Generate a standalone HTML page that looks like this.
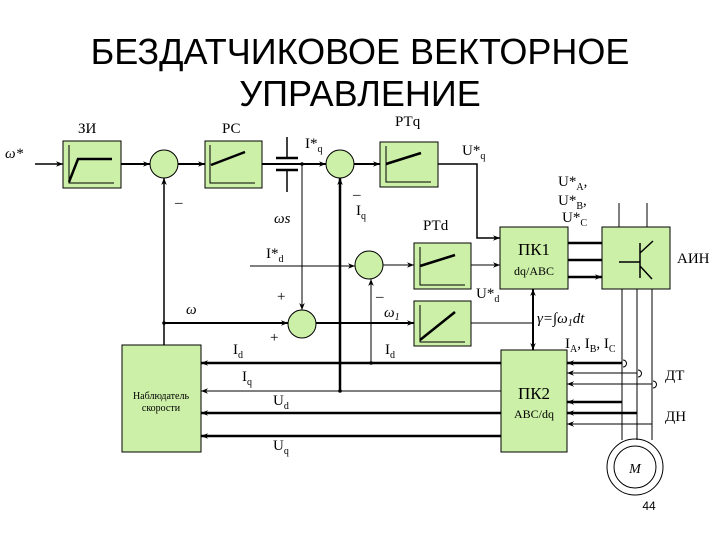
<!DOCTYPE html>
<html><head><meta charset="utf-8"><style>
body{margin:0;background:#fff;width:720px;height:540px;overflow:hidden}
svg{display:block}
text{font-family:"Liberation Serif",serif;fill:#000}
</style></head><body>
<svg width="720" height="540" viewBox="0 0 720 540" xmlns="http://www.w3.org/2000/svg">
<defs>
<marker id="a" viewBox="0 0 10 10" refX="10" refY="5" markerWidth="7" markerHeight="7" orient="auto-start-reverse" markerUnits="userSpaceOnUse"><path d="M0,1 L10,5 L0,9 L3,5 z" fill="#000"/></marker>
</defs>
<text x="360" y="64" font-size="36" text-anchor="middle" style="font-family:'Liberation Sans',sans-serif">БЕЗДАТЧИКОВОЕ ВЕКТОРНОЕ</text>
<text x="360" y="106" font-size="36" text-anchor="middle" style="font-family:'Liberation Sans',sans-serif">УПРАВЛЕНИЕ</text>

<g fill="#ccf0a8" stroke="#000" stroke-width="1">
<rect x="63" y="141" width="58" height="47"/>
<rect x="205" y="141" width="57" height="47"/>
<rect x="380" y="142" width="58" height="45"/>
<rect x="414" y="243" width="57" height="46"/>
<rect x="414" y="301" width="57" height="45"/>
<rect x="500" y="227" width="68" height="62"/>
<rect x="602" y="227" width="68" height="62"/>
<rect x="122" y="345" width="79" height="107"/>
<rect x="501" y="350" width="66" height="102"/>
<circle cx="164" cy="164" r="14"/>
<circle cx="340" cy="164" r="14"/>
<circle cx="369" cy="265" r="14"/>
<circle cx="302" cy="324" r="14"/>
</g>
<g stroke="#000" fill="none">
<path d="M69,145 V183 H114" stroke-width="1"/><path d="M69,182 L78,159 H112" stroke-width="2.5"/>
<path d="M210,145 V183 H255" /><path d="M211,165 L245,152" stroke-width="2.5"/>
<path d="M386,146 V182 H431" /><path d="M386,164 L421,153" stroke-width="2.5"/>
<path d="M420,247 V285 H465" /><path d="M420,266 L455,255" stroke-width="2.5"/>
<path d="M420,305 V342 H465" /><path d="M420,340 L455,312" stroke-width="2.5"/>
<path d="M619,262 H640 M640,243 V278 M640,253 L653,241 M640,266 L652,279" stroke-width="1.5"/>
</g>
<g stroke="#000" fill="none" stroke-width="1.5">
<path d="M35,164 H63" marker-end="url(#a)"/>
<path d="M121,164 H150" marker-end="url(#a)" stroke-width="2"/>
<path d="M178,164 H205" marker-end="url(#a)" stroke-width="2"/>
<path d="M262,164 H326" marker-end="url(#a)" stroke-width="2"/>
<path d="M276,158 H298 M276,170 H298" stroke-width="2.5"/>
<path d="M287,137 V158 M287,170 V192"/>
<path d="M354,164 H380" marker-end="url(#a)" stroke-width="2"/>
<path d="M438,164 H477 V238 H500" marker-end="url(#a)"/>
<path d="M302,164 V310" marker-end="url(#a)" stroke-width="1"/>
<path d="M164,345 V323 M164,323 V178" marker-end="url(#a)"/>
<path d="M164,323 H288" marker-end="url(#a)" stroke-width="2"/>
<path d="M316,323 H414" marker-end="url(#a)" stroke-width="2"/>
<path d="M250,266 H355" marker-end="url(#a)" stroke-width="1"/>
<path d="M383,265 H414" marker-end="url(#a)" stroke-width="1"/>
<path d="M471,265 H500" marker-end="url(#a)" stroke-width="1"/>
<path d="M340,391 V178" marker-end="url(#a)" stroke-width="2.5"/>
<path d="M371,363 V279" marker-end="url(#a)" stroke-width="1"/>
<path d="M471,323 H533" stroke-width="1"/>
<path d="M533,289 V350" marker-start="url(#a)" marker-end="url(#a)" stroke-width="2"/>
<path d="M568,243 H602 M568,260 H602 M568,277 H602" marker-end="url(#a)" stroke-width="2.5"/>
<path d="M619,203 V227 M647,203 V227" stroke-width="1"/>
<path d="M622,289 V440 M637,289 V440 M652,289 V440" stroke-width="1"/>
<path d="M501,363 H201" marker-end="url(#a)" stroke-width="2.5"/>
<path d="M501,391 H201" marker-end="url(#a)" stroke-width="1"/>
<path d="M501,413 H201" marker-end="url(#a)" stroke-width="2.5"/>
<path d="M501,436 H201" marker-end="url(#a)" stroke-width="2.5"/>
<path d="M622,363 H567" marker-end="url(#a)" stroke-width="2.5"/>
<path d="M637,373 H567" marker-end="url(#a)" stroke-width="1"/>
<path d="M652,384 H567" marker-end="url(#a)" stroke-width="1"/>
<path d="M622,402 H567" marker-end="url(#a)" stroke-width="2.5"/>
<path d="M637,413 H567" marker-end="url(#a)" stroke-width="2.5"/>
<path d="M652,424 H567" marker-end="url(#a)" stroke-width="1"/>
<path d="M623,367 a3.5,3.5 0 0 0 0,-7 M638,377 a3.5,3.5 0 0 0 0,-7 M653,388 a3.5,3.5 0 0 0 0,-7" stroke-width="1"/>
<circle cx="635" cy="467" r="28" stroke-width="1"/>
<circle cx="635" cy="467" r="21" stroke-width="1"/>
</g>
<g fill="#000"><circle cx="302" cy="164" r="1.8"/><circle cx="340" cy="391" r="1.8"/><circle cx="371" cy="363" r="1.8"/><circle cx="164" cy="323" r="1.8"/></g>

<g font-size="15">
<text x="78" y="133">ЗИ</text>
<text x="222" y="133">РС</text>
<text x="395" y="126">РТq</text>
<text x="423" y="230">РТd</text>
<text x="5" y="158" font-style="italic">ω*</text>
<text x="305" y="148">I*<tspan font-size="10" dy="4">q</tspan></text>
<text x="462" y="155">U*<tspan font-size="10" dy="4">q</tspan></text>
<text x="558" y="186">U*<tspan font-size="10" dy="4">A</tspan><tspan dy="-4">,</tspan></text>
<text x="558" y="205">U*<tspan font-size="10" dy="4">B</tspan><tspan dy="-4">,</tspan></text>
<text x="562" y="222">U*<tspan font-size="10" dy="4">C</tspan></text>
<text x="175" y="207">–</text>
<text x="353" y="199">–</text>
<text x="356" y="215">I<tspan font-size="10" dy="4">q</tspan></text>
<text x="274" y="223" font-style="italic">ωs</text>
<text x="266" y="258">I*<tspan font-size="10" dy="4">d</tspan></text>
<text x="376" y="301">–</text>
<text x="277" y="301">+</text>
<text x="270" y="342">+</text>
<text x="186" y="314" font-style="italic">ω</text>
<text x="384" y="317" font-style="italic">ω<tspan font-size="10" dy="3">1</tspan></text>
<text x="233" y="354">I<tspan font-size="10" dy="4">d</tspan></text>
<text x="385" y="354">I<tspan font-size="10" dy="4">d</tspan></text>
<text x="242" y="381">I<tspan font-size="10" dy="4">q</tspan></text>
<text x="273" y="405">U<tspan font-size="10" dy="4">d</tspan></text>
<text x="273" y="450">U<tspan font-size="10" dy="4">q</tspan></text>
<text x="476" y="298">U*<tspan font-size="10" dy="4">d</tspan></text>
<text x="537" y="323" font-style="italic">γ=∫ω<tspan font-size="10" dy="3">1</tspan><tspan dy="-3">dt</tspan></text>
<text x="565" y="348">I<tspan font-size="10" dy="4">A</tspan><tspan dy="-4">, I</tspan><tspan font-size="10" dy="4">B</tspan><tspan dy="-4">, I</tspan><tspan font-size="10" dy="4">C</tspan></text>
<text x="677" y="263">АИН</text>
<text x="665" y="380">ДТ</text>
<text x="665" y="421">ДН</text>
<text x="534" y="255" font-size="17" text-anchor="middle">ПК1</text>
<text x="534" y="275" font-size="12" text-anchor="middle">dq/ABC</text>
<text x="534" y="399" font-size="17" text-anchor="middle">ПК2</text>
<text x="534" y="418" font-size="12" text-anchor="middle">ABC/dq</text>
<text x="161" y="399" font-size="10" text-anchor="middle">Наблюдатель</text>
<text x="161" y="411" font-size="10" text-anchor="middle">скорости</text>
<text x="635" y="473" font-style="italic" text-anchor="middle" font-size="14">M</text>
<text x="649" y="510" font-size="12" text-anchor="middle" style="font-family:'Liberation Sans',sans-serif">44</text>
</g>
</svg>
</body></html>
